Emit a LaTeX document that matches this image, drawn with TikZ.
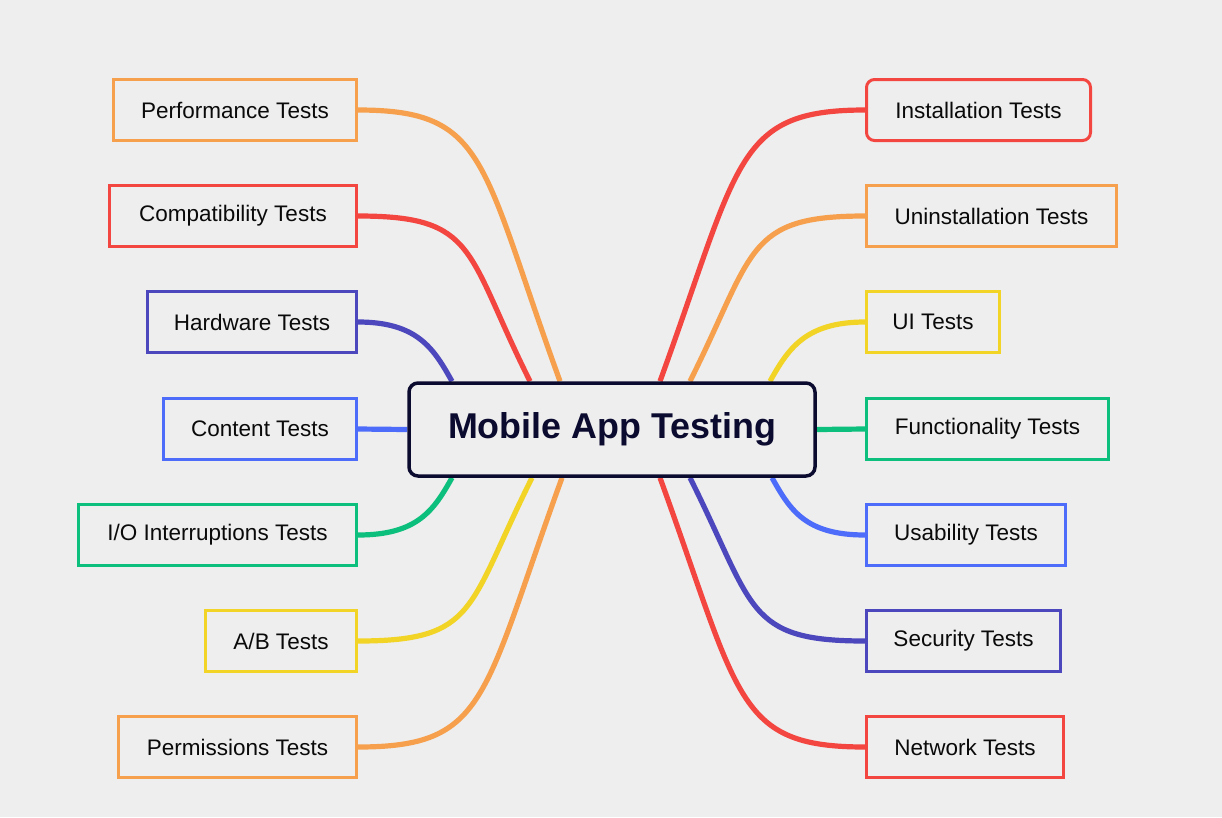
\documentclass[tikz,border=0pt]{standalone}
\usepackage{fontspec}
\setmainfont{Liberation Sans}
\usetikzlibrary{backgrounds}
\definecolor{bgGray}{HTML}{EEEEEE}
\definecolor{cOrange}{HTML}{F6A04D}
\definecolor{cRed}{HTML}{F44640}
\definecolor{cIndigo}{HTML}{4C47BD}
\definecolor{cBlue}{HTML}{4D6CFA}
\definecolor{cGreen}{HTML}{0DBF7C}
\definecolor{cYellow}{HTML}{F2D426}
\definecolor{hubNavy}{HTML}{0B0A2F}
\definecolor{leafText}{HTML}{0A0A0A}
\newlength{\unitpx}
\setlength{\unitpx}{0.025cm}

\begin{document}
\begin{tikzpicture}[
  x=0.025cm, y=-0.025cm,
  leaf/.style={draw=#1, fill=bgGray, rectangle, line width=3\unitpx, minimum height=61\unitpx, align=center, text=leafText, font=\fontsize{16}{19}\selectfont},
  hub/.style={draw=hubNavy, fill=bgGray, rectangle, rounded corners=9\unitpx, line width=3.5\unitpx, minimum width=406\unitpx, minimum height=93\unitpx, text=hubNavy, font=\fontsize{25.5}{30}\selectfont\bfseries},
  branch/.style={draw=#1, line width=5.2\unitpx}
]
\useasboundingbox (0,0) rectangle (1222,817);
\begin{pgfonlayer}{background}
  \fill[bgGray] (0,0) rectangle (1222,817);
\end{pgfonlayer}

\node[hub] (main) at (612,429.5) {Mobile App Testing};

% left side
\node[leaf=cOrange, anchor=east, minimum width=243\unitpx] (perf) at (358,110) {Performance Tests};
\node[leaf=cRed, anchor=east, minimum width=247\unitpx] (compat) at (358,216) {Compatibility Tests};
\node[leaf=cIndigo, anchor=east, minimum width=209\unitpx] (hardware) at (358,322) {Hardware Tests};
\node[leaf=cBlue, anchor=east, minimum width=193\unitpx] (content) at (358,429) {Content Tests};
\node[leaf=cGreen, anchor=east, minimum width=278\unitpx] (iointr) at (358,535) {I/O Interruptions Tests};
\node[leaf=cYellow, anchor=east, minimum width=151\unitpx] (abtest) at (358,641) {A/B Tests};
\node[leaf=cOrange, anchor=east, minimum width=238\unitpx] (perm) at (358,747) {Permissions Tests};

% right side
\node[leaf=cRed, anchor=west, minimum width=224\unitpx, rounded corners=8\unitpx] (install) at (865,110) {Installation Tests};
\node[leaf=cOrange, anchor=west, minimum width=250\unitpx] (uninstall) at (865,216) {Uninstallation Tests};
\node[leaf=cYellow, anchor=west, minimum width=133\unitpx] (uitest) at (865,322) {UI Tests};
\node[leaf=cGreen, anchor=west, minimum width=242\unitpx] (func) at (865,429) {Functionality Tests};
\node[leaf=cBlue, anchor=west, minimum width=199\unitpx] (usab) at (865,535) {Usability Tests};
\node[leaf=cIndigo, anchor=west, minimum width=194\unitpx] (secur) at (865,641) {Security Tests};
\node[leaf=cRed, anchor=west, minimum width=197\unitpx] (network) at (865,747) {Network Tests};

\begin{pgfonlayer}{background}
  \draw[branch=cOrange] (perf.east) .. controls +(130,0) and +(-80,-220) .. ([xshift=-52\unitpx]main.north);
  \draw[branch=cRed] (compat.east) .. controls +(120,0) and +(-65,-130) .. ([xshift=-82\unitpx]main.north);
  \draw[branch=cIndigo] (hardware.east) .. controls +(60,0) and +(-18,-32) .. ([xshift=-160\unitpx]main.north);
  \draw[branch=cBlue] (content.east) -- (main.west);
  \draw[branch=cGreen] (iointr.east) .. controls +(60,0) and +(-18,32) .. ([xshift=-160\unitpx]main.south);
  \draw[branch=cYellow] (abtest.east) .. controls +(120,0) and +(-65,130) .. ([xshift=-80\unitpx]main.south);
  \draw[branch=cOrange] (perm.east) .. controls +(130,0) and +(-80,220) .. ([xshift=-50\unitpx]main.south);

  \draw[branch=cRed] (install.west) .. controls +(-130,0) and +(80,-220) .. ([xshift=48\unitpx]main.north);
  \draw[branch=cOrange] (uninstall.west) .. controls +(-120,0) and +(65,-130) .. ([xshift=78\unitpx]main.north);
  \draw[branch=cYellow] (uitest.west) .. controls +(-60,0) and +(18,-32) .. ([xshift=158\unitpx]main.north);
  \draw[branch=cGreen] (func.west) -- (main.east);
  \draw[branch=cBlue] (usab.west) .. controls +(-60,0) and +(18,32) .. ([xshift=160\unitpx]main.south);
  \draw[branch=cIndigo] (secur.west) .. controls +(-120,0) and +(65,130) .. ([xshift=78\unitpx]main.south);
  \draw[branch=cRed] (network.west) .. controls +(-130,0) and +(80,220) .. ([xshift=48\unitpx]main.south);
\end{pgfonlayer}

\end{tikzpicture}
\end{document}
